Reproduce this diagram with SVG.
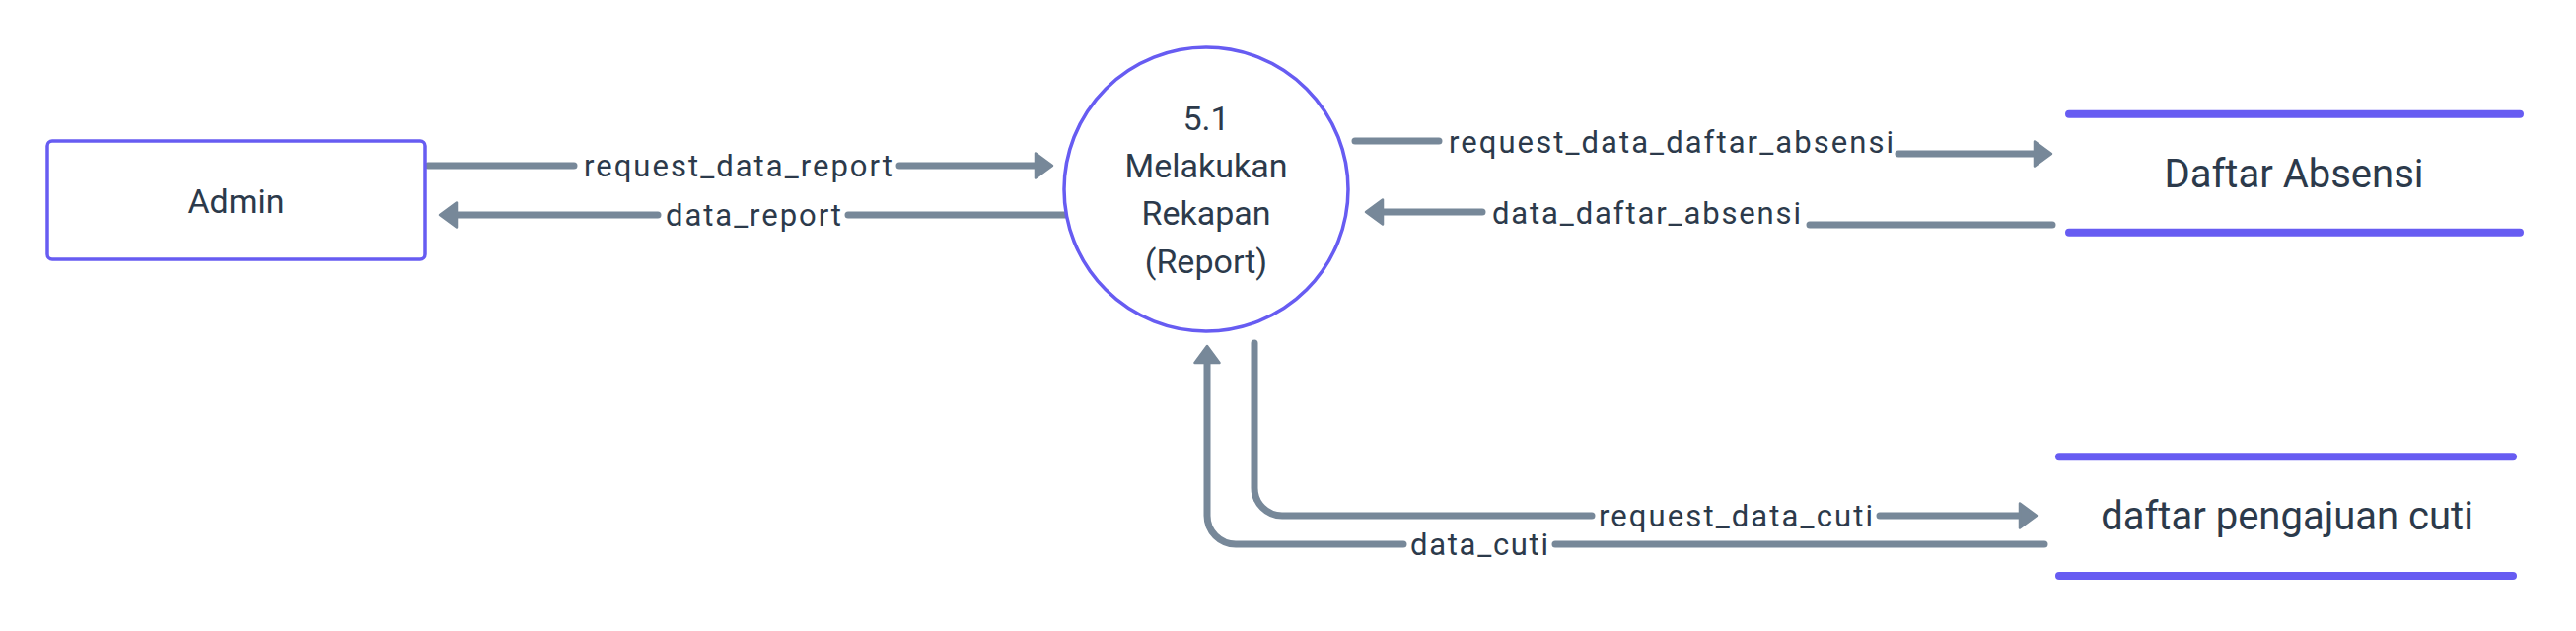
<svg xmlns="http://www.w3.org/2000/svg" width="2612" height="640" viewBox="0 0 2612 640">
<style>
.conn{fill:none;stroke:#778899;stroke-width:7;stroke-linecap:round;stroke-linejoin:round}
.el{font-family:Roboto,"Liberation Sans",sans-serif;font-size:31px;fill:#2c3a4b;text-anchor:middle}
.nt{font-family:Roboto,"Liberation Sans",sans-serif;font-size:34px;fill:#2c3a4b;text-anchor:middle}
.st{font-family:Roboto,"Liberation Sans",sans-serif;font-size:40px;fill:#2c3a4b;text-anchor:middle}
.box{fill:#ffffff;stroke:#675cf2;stroke-width:3.5}
.store{stroke:#675cf2;stroke-width:8;stroke-linecap:round}
</style>
<defs>
<marker id="ah" markerUnits="userSpaceOnUse" viewBox="-2 -2 22 29" markerWidth="22" markerHeight="29" refX="1" refY="12.5" orient="auto" overflow="visible">
<path d="M0,0 L17,12.5 L0,25 Z" fill="#778899" stroke="#778899" stroke-width="2.5" stroke-linejoin="round"/>
</marker>
</defs>
<rect width="2612" height="640" fill="#ffffff"/>
<g id="connectors">
<path class="conn" d="M434,168 H582 M912,168 H1051" marker-end="url(#ah)"/>
<path class="conn" d="M1081,218 H860 M667,218 H462" marker-end="url(#ah)"/>
<path class="conn" d="M1374,143 H1459 M1925,156 H2064" marker-end="url(#ah)"/>
<path class="conn" d="M2081,228 H1835 M1503,215 H1401" marker-end="url(#ah)"/>
<path class="conn" d="M1272,348 V495 A28,28 0 0 0 1300,523 H1614 M1906,523 H2049" marker-end="url(#ah)"/>
<path class="conn" d="M2073,552 H1577 M1423,552 H1253 A29,29 0 0 1 1224,523 V367" marker-end="url(#ah)"/>
<text class="el" x="748.5" y="179" textLength="313" lengthAdjust="spacing">request_data_report</text>
<text class="el" x="764" y="228.5" textLength="178" lengthAdjust="spacing">data_report</text>
<text class="el" x="1694.5" y="155" textLength="451" lengthAdjust="spacing">request_data_daftar_absensi</text>
<text class="el" x="1669.5" y="226.5" textLength="313" lengthAdjust="spacing">data_daftar_absensi</text>
<text class="el" x="1760" y="534" textLength="278" lengthAdjust="spacing">request_data_cuti</text>
<text class="el" x="1500" y="563" textLength="140" lengthAdjust="spacing">data_cuti</text>
</g>
<g id="admin">
<rect class="box" x="48" y="143" width="383" height="120" rx="5"/>
<text class="nt" x="239.5" y="216">Admin</text>
</g>
<g id="process-5-1">
<circle class="box" cx="1223" cy="192" r="144" stroke-width="4"/>
<text class="nt" x="1223" y="131.5">5.1</text>
<text class="nt" x="1223" y="180">Melakukan</text>
<text class="nt" x="1223" y="228.3">Rekapan</text>
<text class="nt" x="1223" y="276.5">(Report)</text>
</g>
<g id="daftar-absensi">
<line class="store" x1="2098" y1="115.7" x2="2555" y2="115.7"/>
<line class="store" x1="2098" y1="235.7" x2="2555" y2="235.7"/>
<text class="st" x="2326" y="190">Daftar Absensi</text>
</g>
<g id="daftar-pengajuan-cuti">
<line class="store" x1="2088" y1="463.3" x2="2548" y2="463.3"/>
<line class="store" x1="2088" y1="584" x2="2548" y2="584"/>
<text class="st" x="2319" y="537">daftar pengajuan cuti</text>
</g>
</svg>
